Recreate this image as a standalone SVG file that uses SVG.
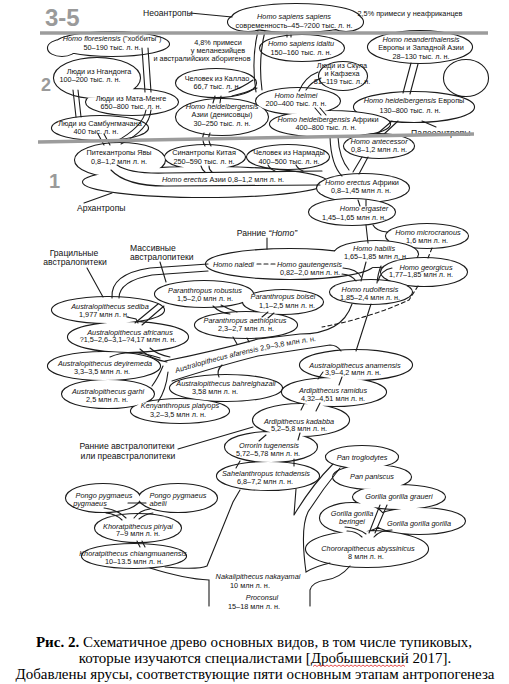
<svg xmlns="http://www.w3.org/2000/svg" width="509" height="684" viewBox="0 0 509 684">
<style>
.cl{fill:#fff;stroke:#1c1c1c;stroke-width:2.2;paint-order:stroke}
.c{fill:none;stroke:#1c1c1c;stroke-width:1.1;stroke-linecap:round}
.d{stroke-dasharray:4 3}
text{font-family:"Liberation Sans",Arial,sans-serif;font-size:7.3px;fill:#111;text-anchor:middle}
.i{font-style:italic}
.L{font-size:8.6px}
.s{text-anchor:start}
.tier{font-weight:bold;fill:#9a9a9a;text-anchor:start}
.t35{font-size:24px}
.t2{font-size:18px}
.t1{font-size:20px}
.cap{font-family:"Liberation Serif","Times New Roman",serif;font-size:15px;fill:#000}
.gl{stroke:#9c9c9c;stroke-width:3.5;fill:none}
</style>
<rect width="509" height="684" fill="#fff"/>

<g id="clouds">
<path id="cl-sapiens" class="cl" d="M232 18a64 14 0 1 0 128 0a64 14 0 1 0 -128 0Z M228 22a20 9 0 1 0 40 0a20 9 0 1 0 -40 0Z M329 22a17 9 0 1 0 34 0a17 9 0 1 0 -34 0Z"/>
<path id="cl-flores" class="cl" d="M55 44a57 12 0 1 0 114 0a57 12 0 1 0 -114 0Z M48 48a14 8 0 1 0 28 0a14 8 0 1 0 -28 0Z"/>
<path id="cl-idaltu" class="cl" d="M260 48a42 13 0 1 0 84 0a42 13 0 1 0 -84 0Z"/>
<path id="cl-neander-heid" class="cl" d="M368 47a52 16 0 1 0 104 0a52 16 0 1 0 -104 0Z M444 78a22 18 0 1 0 44 0a22 18 0 1 0 -44 0Z M354 107a60 15 0 1 0 120 0a60 15 0 1 0 -120 0Z"/>
<path id="cl-ngandong" class="cl" d="M54 78a43 20 0 1 0 86 0a43 20 0 1 0 -86 0Z M86 102a46 13 0 1 0 92 0a46 13 0 1 0 -92 0Z"/>
<path id="cl-skhul" class="cl" d="M319 76a24 14 0 1 0 48 0a24 14 0 1 0 -48 0Z"/>
<path id="cl-callao" class="cl" d="M176 83a40 14 0 1 0 80 0a40 14 0 1 0 -80 0Z"/>
<path id="cl-heid" class="cl" d="M256 101a42 13 0 1 0 84 0a42 13 0 1 0 -84 0Z M270 124a60 13 0 1 0 120 0a60 13 0 1 0 -120 0Z M176 117a46 18 0 1 0 92 0a46 18 0 1 0 -92 0Z"/>
<path id="cl-sambung" class="cl" d="M52 128a48 12 0 1 0 96 0a48 12 0 1 0 -96 0Z"/>
<path id="cl-antecessor" class="cl" d="M344 146a35 12 0 1 0 70 0a35 12 0 1 0 -70 0Z"/>
<path id="cl-erectus-asia" class="cl" d="M75 160a45 17 0 1 0 90 0a45 17 0 1 0 -90 0Z M165 157a40 12 0 1 0 80 0a40 12 0 1 0 -80 0Z M247 157a41 12 0 1 0 82 0a41 12 0 1 0 -82 0Z M83 182a122 15 0 1 0 244 0a122 15 0 1 0 -244 0Z"/>
<path id="cl-erectus-afr" class="cl" d="M317 188a46 14 0 1 0 92 0a46 14 0 1 0 -92 0Z"/>
<path id="cl-ergaster" class="cl" d="M309 212a43 13 0 1 0 86 0a43 13 0 1 0 -86 0Z"/>
<path id="cl-micro" class="cl" d="M386 236a41 12 0 1 0 82 0a41 12 0 1 0 -82 0Z"/>
<path id="cl-early-homo" class="cl" d="M206 264a84 15 0 1 0 168 0a84 15 0 1 0 -168 0Z M334 254a42 13 0 1 0 84 0a42 13 0 1 0 -84 0Z"/>
<path id="cl-georgicus" class="cl" d="M381 272a43 14 0 1 0 86 0a43 14 0 1 0 -86 0Z"/>
<path id="cl-rudolf" class="cl" d="M330 292a41 12 0 1 0 82 0a41 12 0 1 0 -82 0Z"/>
<path id="cl-paranthropus" class="cl" d="M155 294a49 13 0 1 0 98 0a49 13 0 1 0 -98 0Z M243 302a40 12 0 1 0 80 0a40 12 0 1 0 -80 0Z M195 325a51 13 0 1 0 102 0a51 13 0 1 0 -102 0Z"/>
<path id="cl-australo" class="cl" d="M52 310a56 13 0 1 0 112 0a56 13 0 1 0 -112 0Z M68 337a60 15 0 1 0 120 0a60 15 0 1 0 -120 0Z M48 366a56 14 0 1 0 112 0a56 14 0 1 0 -112 0Z M62 394a46 14 0 1 0 92 0a46 14 0 1 0 -92 0Z M131 411a49 12 0 1 0 98 0a49 12 0 1 0 -98 0Z M170 388a56 13 0 1 0 112 0a56 13 0 1 0 -112 0Z"/>
<path id="cl-chain" class="cl" d="M300 365a56 15 0 1 0 112 0a56 15 0 1 0 -112 0Z M282 392a52 14 0 1 0 104 0a52 14 0 1 0 -104 0Z M253 420a48 16 0 1 0 96 0a48 16 0 1 0 -96 0Z M225 447a46 15 0 1 0 92 0a46 15 0 1 0 -92 0Z M217 476a51 14 0 1 0 102 0a51 14 0 1 0 -102 0Z"/>
<path id="cl-african-apes" class="cl" d="M326 457a36 11 0 1 0 72 0a36 11 0 1 0 -72 0Z M333 477a39 12 0 1 0 78 0a39 12 0 1 0 -78 0Z M353 497a46 12 0 1 0 92 0a46 12 0 1 0 -92 0Z M320 518a32 15 0 1 0 64 0a32 15 0 1 0 -64 0Z M373 521a46 13 0 1 0 92 0a46 13 0 1 0 -92 0Z M306 549a61 18 0 1 0 122 0a61 18 0 1 0 -122 0Z"/>
<path id="cl-pongo" class="cl" d="M66 498a37 14 0 1 0 74 0a37 14 0 1 0 -74 0Z M139 498a39 14 0 1 0 78 0a39 14 0 1 0 -78 0Z"/>
<path id="cl-piriyai" class="cl" d="M95 528a43 14 0 1 0 86 0a43 14 0 1 0 -86 0Z"/>
<path id="cl-chiang" class="cl" d="M82 556a52 12 0 1 0 104 0a52 12 0 1 0 -104 0Z"/>
</g>

<g id="connectors">
<path class="c" d="M190 13 L232 17"/>
<path class="c" d="M258 31 Q251 60 256 92 M265 31 Q258 60 262 90"/>
<path class="c" d="M287 32 L287 37 M291 32 L291 37"/>
<path class="c" d="M318 72 Q305 77 299 91 M321 78 Q311 82 306 90"/>
<path class="c" d="M229 92 Q242 88 253 80 M232 96 Q246 93 257 88"/>
<path class="c" d="M215 96 L213 103 M221 96 L220 103"/>
<path class="c" d="M142 48 L145 92 M148 48 L151 92"/>
<path class="c" d="M151 110 Q149 130 121 144 M146 110 Q143 127 115 142"/>
<path class="c" d="M73 90 L76 117 M78 90 L81 117"/>
<path class="c" d="M98 134 L104 145 M104 134 L110 145"/>
<path class="c" d="M204 133 Q201 139 205 146 M210 133 Q207 139 211 146"/>
<path class="c" d="M411 63 L403 93 M418 64 L410 94"/>
<path class="c" d="M392 121 L377 134 M398 121 L383 135"/>
<path class="c" d="M315 108 L321 115 M320 108 L326 115"/>
<path class="c" d="M330 137 Q331 165 342 176 M338 137 Q339 158 349 170"/>
<path class="c" d="M362 157 L353 172 M368 157 L359 174"/>
<path class="c" d="M422 121 L436 127"/>
<path class="c" d="M117 165 Q130 174 165 173 L322 171 M111 170 Q126 186 165 186 L320 185"/>
<path class="c" d="M201 166 Q202 170 205 172 M209 166 Q209 170 212 172"/>
<path class="c" d="M268 165 Q270 169 275 171 M296 165 Q298 169 303 171"/>
<path class="c" d="M84 203 L112 193"/>
<path class="c" d="M358 200 L360 206 M366 200 L366 206"/>
<path class="c" d="M366 225 L368 243 M373 225 Q376 231 387 232"/>
<path class="c" d="M267 238 L267 249"/>
<path class="c" d="M87 268 L103 297"/>
<path class="c" d="M160 262 L166 282"/>
<path class="c" d="M112 298 Q110 274 150 268 L208 264 M119 298 Q119 281 152 275 L208 271"/>
<path class="c d" d="M257 264 L276 264"/>
<path class="c" d="M366 262 L361 281 M381 266 Q378 273 377 283"/>
<path class="c" d="M343 268 Q357 269 361 277 M342 274 Q352 275 356 281"/>
<path class="c" d="M378 281 Q381 270 392 268"/>
<path class="c d" d="M432 248 L428 258"/>
<path class="c d" d="M418 286 L409 300 Q370 318 322 327"/>
<path class="c" d="M165 361 Q215 351 258 339 L300 334 Q342 334 352 304 M172 381 Q222 365 258 356 L330 345 Q337 345 341 351 M371 304 L356 351"/>
<path class="c" d="M233 337 L237 344 M247 338 L249 342"/>
<path class="c" d="M213 306 Q220 313 230 314 M221 305 Q228 309 237 312"/>
<path class="c" d="M268 312 L262 317 M274 313 L268 318"/>
<path class="c" d="M127 317 L136 319 L138 323"/>
<path class="c" d="M135 323 L158 304 M142 325 L164 306"/>
<path class="c" d="M140 349 Q150 359 167 362 M150 348 Q158 355 170 357"/>
<path class="c" d="M110 357 Q130 348 160 358"/>
<path class="c" d="M163 366 Q158 378 152 386 M168 372 Q166 390 158 402"/>
<path class="c" d="M222 365 Q216 371 219 377"/>
<path class="c" d="M318 379 L323 372 M342 377 L339 385"/>
<path class="c" d="M304 404 L301 410 M320 403 L316 411"/>
<path class="c" d="M266 435 L259 441 M300 433 L298 440"/>
<path class="c" d="M294 459 L294 466 M240 461 L236 468"/>
<path class="c" d="M178 449 L253 427"/>
<path class="c" d="M240 490 L233 502 L207 566 Q198 570 165 567 M150 568 Q185 579 209 580 L209 606"/>
<path class="c" d="M296 489 L294 515 M333 464 Q312 485 294 515 M340 468 Q322 490 308 512 Q300 528 306 572 Q316 566 330 563 M310 606 L310 590 Q312 582 326 580 Q340 578 350 566"/>
<path class="c" d="M380 505 L369 533 M387 505 L375 533"/>
<path class="c" d="M345 527 Q358 528 366 534 M347 531 Q356 531 362 537"/>
<path class="c" d="M392 530 Q380 530 374 537"/>
<path class="c" d="M104 508 Q118 510 126 518 M106 513 Q116 514 122 520"/>
<path class="c" d="M128 503 L146 503 M150 509 Q140 510 134 518 M153 513 Q145 514 139 519"/>
<path class="c" d="M137 541 L140 547 M142 541 L145 547"/>
<path id="afar-path" fill="none" d="M176 373 Q252 349 330 339"/>
</g>

<g id="n-neoanthropes"><text class="L s" x="143" y="15.5">Неоантропы</text></g>
<g id="n-sapiens"><text x="294" y="19"><tspan class="i">Homo sapiens sapiens</tspan></text><text x="294" y="28">современность–45–?200 тыс. л. н.</text></g>
<g id="n-note25"><text x="410" y="16">2,5% примеси у неафриканцев</text></g>
<g id="n-flores"><text x="112" y="41"><tspan class="i">Homo floresiensis</tspan> ("хоббиты")</text><text x="112" y="50">50–190 тыс. л. н.</text></g>
<g id="n-note48"><text x="218" y="44.5">4,8% примеси</text><text x="218" y="53">у меланезийцев</text><text x="202" y="61">и австралийских аборигенов</text></g>
<g id="n-idaltu"><text class="i" x="301" y="46">Homo sapiens idaltu</text><text x="301" y="54.5">150–160 тыс. л. н.</text></g>
<g id="n-neanderthalensis"><text class="i" x="421" y="42">Homo neanderthalensis</text><text x="421" y="50">Европы и Западной Азии</text><text x="421" y="58.5">28–130 тыс. л. н.</text></g>
<g id="n-skhul"><text x="342" y="67.5">Люди из Скула</text><text x="342" y="75.5">и Кафзеха</text><text x="342" y="84">81–119 тыс. л. н.</text></g>
<g id="n-ngandong"><text x="99" y="73.5">Люди из Нгандонга</text><text x="90" y="82">100–200 тыс. л. н.</text></g>
<g id="n-callao"><text x="217" y="80.5">Человек из Каллао</text><text x="217" y="89">66,7 тыс. л. н.</text></g>
<g id="n-helmei"><text class="i" x="296" y="97.5">Homo helmei</text><text x="296" y="106">200–400 тыс. л. н.</text></g>
<g id="n-matamenge"><text x="131" y="100.5">Люди из Мата-Менге</text><text x="131" y="109">650–800 тыс. л. н.</text></g>
<g id="n-heid-europe"><text x="414" y="103"><tspan class="i">Homo heidelbergensis</tspan> Европы</text><text x="410" y="113">130–800 тыс. л. н.</text></g>
<g id="n-denisova"><text class="i" x="222" y="108.5">Homo heidelbergensis</text><text x="222" y="117">Азии (денисовцы)</text><text x="222" y="125.5">30–250 тыс. л. н.</text></g>
<g id="n-heid-africa"><text x="328" y="122"><tspan class="i">Homo heidelbergensis</tspan> Африки</text><text x="326" y="130">400–800 тыс. л. н.</text></g>
<g id="n-sambung"><text x="100" y="125.5">Люди из Самбунгмачана</text><text x="96" y="133.5">400 тыс. л. н.</text></g>
<g id="n-paleoanthropes"><text class="L s" x="411" y="135.5">Палеоантропы</text></g>
<g id="n-antecessor"><text class="i" x="379" y="143.5">Homo antecessor</text><text x="379" y="151.5">0,8–1,2 млн л. н.</text></g>
<g id="n-java"><text x="119" y="155">Питекантропы Явы</text><text x="119" y="163.5">0,8–1,2 млн л. н.</text></g>
<g id="n-sinanthropus"><text x="204" y="155">Синантропы Китая</text><text x="204" y="163.5">250–590 тыс. л. н.</text></g>
<g id="n-narmada"><text x="289" y="155">Человек из Нармады</text><text x="289" y="164">400–500 тыс. л. н.</text></g>
<g id="n-erectus-asia"><text x="223" y="182"><tspan class="i">Homo erectus</tspan> Азии 0,8–1,2 млн л. н.</text></g>
<g id="n-erectus-africa"><text x="362" y="185"><tspan class="i">Homo erectus</tspan> Африки</text><text x="361" y="193">0,8–1,45 млн л. н.</text></g>
<g id="n-archanthropes"><text class="L s" x="77" y="210.5">Архантропы</text></g>
<g id="n-ergaster"><text class="i" x="364" y="210.5">Homo ergaster</text><text x="354" y="219.5">1,45–1,65 млн л. н.</text></g>
<g id="n-microcranous"><text class="i" x="428" y="234.5">Homo microcranous</text><text x="427" y="243">1,6 млн л. н.</text></g>
<g id="n-early-homo-label"><text class="L" x="267" y="235.5">Ранние <tspan class="i">“Homo”</tspan></text></g>
<g id="n-habilis"><text class="i" x="374" y="250.5">Homo habilis</text><text x="376" y="259">1,65–1,85 млн л. н.</text></g>
<g id="n-naledi"><text class="i s" x="213" y="266.5">Homo naledi</text></g>
<g id="n-gautengensis"><text class="i s" x="277" y="266.5">Homo gautengensis</text><text x="310" y="275">0,82–2,0 млн л. н.</text></g>
<g id="n-georgicus"><text class="i" x="426" y="269.5">Homo georgicus</text><text x="421" y="277">1,77–1,85 млн л. н.</text></g>
<g id="n-rudolfensis"><text class="i" x="370" y="291.5">Homo rudolfensis</text><text x="370" y="299.5">1,85–2,4 млн л. н.</text></g>
<g id="n-gracile-label"><text class="L" x="74" y="256">Грацильные</text><text class="L" x="75" y="265">австралопитеки</text></g>
<g id="n-robust-label"><text class="L s" x="130" y="251">Массивные</text><text class="L s" x="130" y="260">австралопитеки</text></g>
<g id="n-robustus"><text class="i" x="205" y="292.5">Paranthropus robustus</text><text x="205" y="300.5">1,5–2,0 млн л. н.</text></g>
<g id="n-boisei"><text class="i" x="283" y="299">Paranthropus boisei</text><text x="287" y="307.5">1,1–2,5 млн л. н.</text></g>
<g id="n-aethiopicus"><text class="i" x="245" y="322.5">Paranthropus aethiopicus</text><text x="246" y="330.5">2,3–2,7 млн л. н.</text></g>
<g id="n-sediba"><text class="i" x="110" y="308.5">Australopithecus sediba</text><text x="104" y="316.5">1,977 млн л. н.</text></g>
<g id="n-africanus"><text class="i" x="130" y="334.5">Australopithecus africanus</text><text x="128" y="342">?1,5–2,6–3,1–?4,17 млн л. н.</text></g>
<g id="n-deyiremeda"><text class="i" x="105" y="365.5">Australopithecus deyiremeda</text><text x="102" y="373.5">3,3–3,5 млн л. н.</text></g>
<g id="n-garhi"><text class="i" x="108" y="393.5">Australopithecus garhi</text><text x="107" y="401.5">2,5 млн л. н.</text></g>
<g id="n-bahrelghazali"><text class="i" x="226" y="385.5">Australopithecus bahrelghazali</text><text x="215" y="393.5">3,58 млн л. н.</text></g>
<g id="n-kenyanthropus"><text class="i" x="180" y="407.5">Kenyanthropus platyops</text><text x="178" y="416.5">3,2–3,5 млн л. н.</text></g>
<g id="n-afarensis"><text class="s"><textPath href="#afar-path"><tspan class="i">Australopithecus afarensis</tspan> 2,9–3,8 млн л. н.</textPath></text></g>
<g id="n-anamensis"><text class="i" x="355" y="367.5">Australopithecus anamensis</text><text x="353" y="375">3,9–4,2 млн л. н.</text></g>
<g id="n-ramidus"><text class="i" x="333" y="392.5">Ardipithecus ramidus</text><text x="333" y="401">4,32–4,51 млн л. н.</text></g>
<g id="n-kadabba"><text class="i" x="299" y="423.5">Ardipithecus kadabba</text><text x="299" y="431">5,2–5,8 млн л. н.</text></g>
<g id="n-preaustr-label"><text class="L" x="127" y="449">Ранние австралопитеки</text><text class="L" x="128" y="459">или преавстралопитеки</text></g>
<g id="n-orrorin"><text class="i" x="269" y="447.5">Orrorin tugenensis</text><text x="268" y="456">5,72–5,78 млн л. н.</text></g>
<g id="n-sahelanthropus"><text class="i" x="266" y="475.5">Sahelanthropus tchadensis</text><text x="265" y="484">6,8–7,2 млн л. н.</text></g>
<g id="n-pan-troglodytes"><text class="i" x="362" y="459.5">Pan troglodytes</text></g>
<g id="n-pan-paniscus"><text class="i" x="372" y="478.5">Pan paniscus</text></g>
<g id="n-graueri"><text class="i" x="399" y="498.5">Gorilla gorilla graueri</text></g>
<g id="n-beringei"><text class="i" x="352" y="515.5">Gorilla gorilla</text><text class="i" x="352" y="523.5">beringei</text></g>
<g id="n-gorilla"><text class="i" x="419" y="525.5">Gorilla gorilla gorilla</text></g>
<g id="n-chororapithecus"><text class="i" x="368" y="550.5">Chororapithecus abyssinicus</text><text x="366" y="558.5">8 млн л. н.</text></g>
<g id="n-pongo-pygmaeus"><text class="i" x="104" y="497.5">Pongo pygmaeus</text><text class="i" x="90" y="505.5">pygmaeus</text></g>
<g id="n-pongo-abelii"><text class="i" x="178" y="497.5">Pongo pygmaeus</text><text class="i" x="158" y="506">abelii</text></g>
<g id="n-piriyai"><text class="i" x="138" y="528.5">Khoratpithecus piriyai</text><text x="138" y="536">7–9 млн л. н.</text></g>
<g id="n-chiang"><text class="i" x="133" y="555.5">Khoratpithecus chiangmuanensis</text><text x="134" y="563.5">10–13.5 млн л. н.</text></g>
<g id="n-nakalipithecus"><text class="i" x="258" y="579">Nakalipithecus nakayamai</text><text x="250" y="588">10 млн л. н.</text></g>
<g id="n-proconsul"><text class="i" x="262" y="599.5">Proconsul</text><text x="254" y="608.5">15–18 млн л. н.</text></g>

<g id="tiers">
<path class="gl" d="M40 33 L488 33"/>
<path class="gl" d="M38 142 L474 134"/>
<text class="tier t35" x="45" y="26">3-5</text>
<text class="tier t2" x="41" y="91">2</text>
<text class="tier t1" x="49" y="188">1</text>
</g>

<g id="caption">
<text class="cap" x="254" y="647"><tspan font-weight="bold">Рис. 2.</tspan> Схематичное древо основных видов, в том числе тупиковых,</text>
<text class="cap" x="265" y="663">которые изучаются специалистами [Дробышевский 2017].</text>
<text class="cap" x="255" y="679">Добавлены ярусы, соответствующие пяти основным этапам антропогенеза</text>
<path d="M313 666.5 l2 -1.5 l2 1.5 l2 -1.5 l2 1.5 l2 -1.5 l2 1.5 l2 -1.5 l2 1.5 l2 -1.5 l2 1.5 l2 -1.5 l2 1.5 l2 -1.5 l2 1.5 l2 -1.5 l2 1.5 l2 -1.5 l2 1.5 l2 -1.5 l2 1.5 l2 -1.5 l2 1.5 l2 -1.5 l2 1.5 l2 -1.5 l2 1.5 l2 -1.5 l2 1.5 l2 -1.5 l2 1.5 l2 -1.5 l2 1.5 l2 -1.5 l2 1.5 l2 -1.5 l2 1.5 l2 -1.5 l2 1.5 l2 -1.5 l2 1.5 l2 -1.5 l2 1.5 l2 -1.5 l2 1.5 l2 -1.5 l2 1.5" fill="none" stroke="#e02020" stroke-width="0.8"/>
</g>
</svg>
